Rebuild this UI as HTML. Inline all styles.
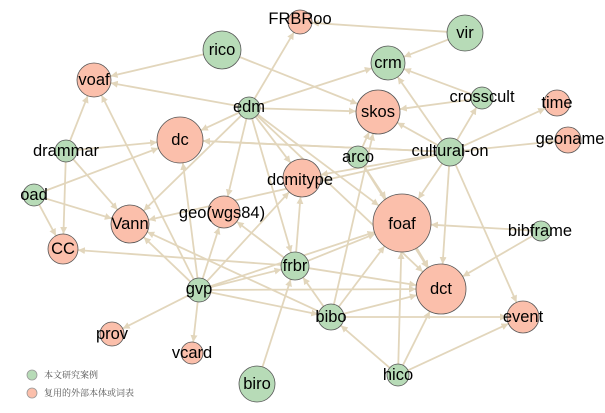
<!DOCTYPE html>
<html><head><meta charset="utf-8"><style>
body{margin:0;background:#fff;width:605px;height:413px;overflow:hidden}
svg{display:block}
text{font-family:"Liberation Sans",Arial,sans-serif;font-size:16.5px;fill:#000;text-anchor:middle;dominant-baseline:central}
.lg{font-family:"Liberation Serif","Noto Serif CJK SC",serif;font-size:9px;fill:#555;text-anchor:start}
</style></head><body>
<svg id="s" width="605" height="413" viewBox="0 0 605 413">
<defs><marker id="a" viewBox="0 0 10 10" refX="10" refY="5" markerWidth="7" markerHeight="7" markerUnits="userSpaceOnUse" orient="auto"><path d="M0,0L10,5L0,10z" fill="#e2d6bc"/></marker></defs>
<g id="edges"></g>
<g id="nodes" stroke="#555" stroke-width="0.8">
<circle cx="300" cy="22" r="12" fill="#fbbfab"/>
<circle cx="465" cy="33" r="18" fill="#b7dbb7"/>
<circle cx="222" cy="50" r="19" fill="#b7dbb7"/>
<circle cx="388" cy="63" r="17" fill="#b7dbb7"/>
<circle cx="94" cy="80" r="17" fill="#fbbfab"/>
<circle cx="482" cy="98" r="11" fill="#b7dbb7"/>
<circle cx="557" cy="103" r="13" fill="#fbbfab"/>
<circle cx="249" cy="108" r="11" fill="#b7dbb7"/>
<circle cx="378" cy="112" r="22" fill="#fbbfab"/>
<circle cx="568" cy="140" r="13" fill="#fbbfab"/>
<circle cx="180" cy="140" r="23" fill="#fbbfab"/>
<circle cx="450" cy="152" r="14" fill="#b7dbb7"/>
<circle cx="358" cy="157" r="11" fill="#b7dbb7"/>
<circle cx="66" cy="151" r="11" fill="#b7dbb7"/>
<circle cx="302" cy="178" r="19" fill="#fbbfab"/>
<circle cx="34" cy="195" r="11" fill="#b7dbb7"/>
<circle cx="224" cy="212" r="16" fill="#fbbfab"/>
<circle cx="402" cy="223" r="29" fill="#fbbfab"/>
<circle cx="130" cy="224" r="19" fill="#fbbfab"/>
<circle cx="541" cy="231" r="10" fill="#b7dbb7"/>
<circle cx="63" cy="249" r="15" fill="#fbbfab"/>
<circle cx="295" cy="266" r="14" fill="#b7dbb7"/>
<circle cx="199" cy="290" r="12" fill="#b7dbb7"/>
<circle cx="441" cy="289" r="25" fill="#fbbfab"/>
<circle cx="331" cy="317" r="13" fill="#b7dbb7"/>
<circle cx="523" cy="317" r="16" fill="#fbbfab"/>
<circle cx="112" cy="334" r="12" fill="#fbbfab"/>
<circle cx="192" cy="353" r="11" fill="#fbbfab"/>
<circle cx="257" cy="384" r="18" fill="#b7dbb7"/>
<circle cx="398" cy="375" r="11" fill="#b7dbb7"/>
<circle cx="32" cy="375" r="5" fill="#b7dbb7" stroke="#999"/>
<circle cx="32" cy="393" r="5" fill="#fbbfab" stroke="#999"/>
</g>
<g>
<text x="300" y="19">FRBRoo</text><text x="465" y="33">vir</text><text x="222" y="50">rico</text>
<text x="388" y="63">crm</text><text x="94" y="80">voaf</text><text x="482" y="97">crosscult</text>
<text x="557" y="103">time</text><text x="249" y="107">edm</text><text x="378" y="112">skos</text>
<text x="570" y="139">geoname</text><text x="180" y="140">dc</text><text x="450" y="151">cultural-on</text>
<text x="358" y="157">arco</text><text x="66" y="151">drammar</text><text x="300" y="180">dcmitype</text>
<text x="34" y="195">oad</text><text x="222" y="213">geo(wgs84)</text><text x="402" y="224">foaf</text>
<text x="130" y="224">Vann</text><text x="540" y="231">bibframe</text><text x="63" y="249">CC</text>
<text x="295" y="266">frbr</text><text x="199" y="289">gvp</text><text x="441" y="289">dct</text>
<text x="331" y="317">bibo</text><text x="523" y="317">event</text><text x="112" y="334">prov</text>
<text x="192" y="353">vcard</text><text x="257" y="384">biro</text><text x="398" y="375">hico</text>
<text class="lg" x="44" y="375">本文研究案例</text><text class="lg" x="44" y="393">复用的外部本体或词表</text>
</g>
</svg>
<script>
var N={FRBRoo:[300,22,12],vir:[465,33,18],rico:[222,50,19],crm:[388,63,17],voaf:[94,80,17],crosscult:[482,98,11],time:[557,103,13],edm:[249,108,11],skos:[378,112,22],geoname:[568,140,13],dc:[180,140,23],cul:[450,152,14],arco:[358,157,11],drammar:[66,151,11],dcmitype:[302,178,19],oad:[34,195,11],geo:[224,212,16],foaf:[402,223,29],Vann:[130,224,19],bibframe:[541,231,10],CC:[63,249,15],frbr:[295,266,14],gvp:[199,290,12],dct:[441,289,25],bibo:[331,317,13],event:[523,317,16],prov:[112,334,12],vcard:[192,353,11],biro:[257,384,18],hico:[398,375,11]};
var E="vir FRBRoo,vir crm,rico voaf,rico skos,edm voaf,edm FRBRoo,edm dc,edm crm,edm skos,edm dcmitype,edm geo,edm foaf,edm frbr,edm Vann,edm dct,drammar voaf,drammar dc,drammar CC,drammar Vann,oad dc,oad Vann,oad CC,crosscult crm,crosscult skos,cul crosscult,cul crm,cul skos,cul time,cul geoname,cul dc,cul dcmitype,cul foaf,cul dct,cul event,cul Vann,arco skos,arco foaf,arco dct,bibframe foaf,bibframe dct,frbr CC,frbr geo,frbr foaf,frbr dct,frbr dcmitype,gvp Vann,gvp voaf,gvp dc,gvp geo,gvp foaf,gvp dct,gvp bibo,gvp prov,gvp vcard,gvp frbr,gvp dcmitype,bibo Vann,bibo frbr,bibo foaf,bibo dct,bibo event,bibo skos,biro frbr,hico foaf,hico dct,hico event,hico bibo,foaf dct,cul dc".split(",");
var g=document.getElementById("edges"),h="";
E.forEach(function(e){var p=e.split(" "),a=N[p[0]],b=N[p[1]],dx=b[0]-a[0],dy=b[1]-a[1],d=Math.sqrt(dx*dx+dy*dy);
var x1=a[0]+dx*a[2]/d,y1=a[1]+dy*a[2]/d,x2=b[0]-dx*b[2]/d,y2=b[1]-dy*b[2]/d;
h+='<line x1="'+x1+'" y1="'+y1+'" x2="'+x2+'" y2="'+y2+'" stroke="#e2d6bc" stroke-width="1.8" marker-end="url(#a)"/>';});
g.innerHTML=h;
</script>
</body></html>
